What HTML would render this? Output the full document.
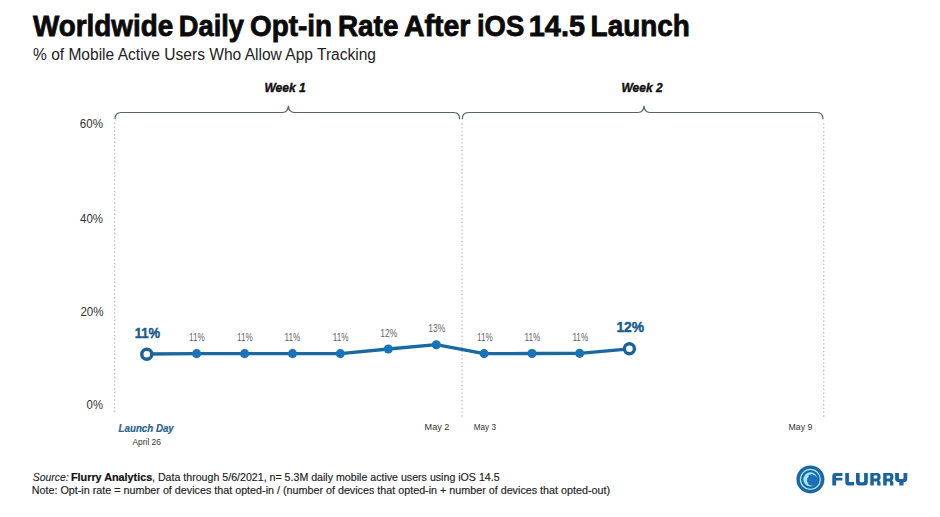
<!DOCTYPE html>
<html><head><meta charset="utf-8">
<style>
html,body{margin:0;padding:0;background:#fff;width:940px;height:517px;overflow:hidden}
svg{display:block}
text{font-family:"Liberation Sans",sans-serif}
</style></head>
<body>
<svg width="940" height="517" viewBox="0 0 940 517">
<rect width="940" height="517" fill="#fff"/>
<!-- Braces -->
<g fill="none" stroke="#536566" stroke-width="1.2">
  <path d="M115 119.2 Q115 112.5 121 112.5 L282.6 112.5 C286 112.5 288.2 110.3 288.4 105.8 C288.6 110.3 290.8 112.5 294.2 112.5 L453.7 112.5 Q459.7 112.5 459.7 119.2"/>
  <path d="M462.3 119.2 Q462.3 112.5 468.3 112.5 L638.2 112.5 C641.6 112.5 643.8 110.3 644 105.8 C644.2 110.3 646.4 112.5 649.8 112.5 L817 112.5 Q823 112.5 823 119.2"/>
</g>

<!-- Dotted vertical lines -->
<g stroke="#bcbcbc" stroke-width="1.3" stroke-dasharray="1.3 2.49">
  <line x1="114.6" y1="122.75" x2="114.6" y2="412"/>
  <line x1="462" y1="123.35" x2="462" y2="417"/>
  <line x1="823.7" y1="123.5" x2="823.7" y2="418.5"/>
</g>

<!-- Data line -->
<polyline fill="none" stroke="#1a689e" stroke-width="3.3" stroke-linejoin="round"
  points="146.8,354 196.6,353.6 244.6,353.6 292.5,353.6 340.3,353.6 388.3,349 436.3,344.7 484.1,353.6 532,353.5 579.7,353.4 629.4,348.8"/>
<g fill="#1774bb">
  <circle cx="196.6" cy="353.6" r="4.55"/>
  <circle cx="244.6" cy="353.6" r="4.55"/>
  <circle cx="292.5" cy="353.6" r="4.55"/>
  <circle cx="340.3" cy="353.6" r="4.55"/>
  <circle cx="388.3" cy="349" r="4.55"/>
  <circle cx="436.3" cy="344.7" r="4.55"/>
  <circle cx="484.1" cy="353.6" r="4.55"/>
  <circle cx="532" cy="353.5" r="4.55"/>
  <circle cx="579.7" cy="353.4" r="4.55"/>
</g>
<g fill="#fff" stroke="#1b629a" stroke-width="3.4">
  <circle cx="146.8" cy="354.3" r="5"/>
  <circle cx="629.4" cy="348.8" r="5"/>
</g>

<!-- Flurry logo -->
<g>
  <circle cx="810.4" cy="479.4" r="14" fill="#1b67a3"/>
  <circle cx="810.4" cy="479.4" r="10.6" fill="#a3e4f6"/>
  <circle cx="810.4" cy="479.4" r="9.3" fill="#1d6898"/>
  <circle cx="810.4" cy="479.4" r="7.1" fill="#a3e4f6"/>
  <circle cx="812.5" cy="480.3" r="5.5" fill="#1a70bb"/>
  <path d="M808.2 475.6 Q810.5 473.6 813.8 474.2 Q811 474.6 809.6 476.2 Z" fill="#1d6898"/>
</g>
<g fill="#1a63a0" fill-rule="evenodd">
  <path d="M832.3 485.5 V476 Q832.3 473 835.3 473 H842.4 V476.1 H836.1 V477.8 H842.4 V480.6 H836.1 V485.5 Z"/>
  <path d="M845.3 473 H848.9 V482 H854 V485.5 H848.3 Q845.3 485.5 845.3 482.5 Z"/>
  <path d="M856 473 H859.7 V481 Q859.7 482.2 860.9 482.2 H862.9 Q864.1 482.2 864.1 481 V473 H867.8 V482 Q867.8 485.5 864.3 485.5 H859.5 Q856 485.5 856 482 Z"/>
  <path d="M870.3 485.5 V473 H877.3 Q880.5 473 880.5 476.2 V478.6 L879.2 480.4 L880.5 482 V485.5 H877.1 V481.4 H873.8 V485.5 Z M873.8 475.5 H876.6 Q877.3 475.5 877.3 476.2 V477.8 Q877.3 478.5 876.6 478.5 H873.8 Z"/>
  <path d="M883.2 485.5 V473 H890.2 Q893.4 473 893.4 476.2 V478.6 L892.1 480.4 L893.4 482 V485.5 H890.0 V481.4 H886.7 V485.5 Z M886.7 475.5 H889.5 Q890.2 475.5 890.2 476.2 V477.8 Q890.2 478.5 889.5 478.5 H886.7 Z"/>
  <path d="M895.1 473 H898.9 V478 Q898.9 479 900 479 H902.5 Q903.5 479 903.5 478 V473 H907.3 V479 Q907.3 482 903.5 482.2 V485.5 H899.3 V482.2 Q895.1 482 895.1 479 Z"/>
</g>

<text id="t0" x="33.00" y="36.00" font-size="29" font-weight="bold" fill="#0a0a0a" stroke="#0a0a0a" stroke-width="0.8" textLength="140.20" lengthAdjust="spacingAndGlyphs">Worldwide</text>
<text id="t1" x="178.80" y="36.00" font-size="29" font-weight="bold" fill="#0a0a0a" stroke="#0a0a0a" stroke-width="0.8" textLength="65.20" lengthAdjust="spacingAndGlyphs">Daily</text>
<text id="t2" x="250.00" y="36.00" font-size="29" font-weight="bold" fill="#0a0a0a" stroke="#0a0a0a" stroke-width="0.8" textLength="82.00" lengthAdjust="spacingAndGlyphs">Opt-in</text>
<text id="t3" x="338.00" y="36.00" font-size="29" font-weight="bold" fill="#0a0a0a" stroke="#0a0a0a" stroke-width="0.8" textLength="60.40" lengthAdjust="spacingAndGlyphs">Rate</text>
<text id="t4" x="404.00" y="36.00" font-size="29" font-weight="bold" fill="#0a0a0a" stroke="#0a0a0a" stroke-width="0.8" textLength="66.40" lengthAdjust="spacingAndGlyphs">After</text>
<text id="t5" x="477.00" y="36.00" font-size="29" font-weight="bold" fill="#0a0a0a" stroke="#0a0a0a" stroke-width="0.8" textLength="47.20" lengthAdjust="spacingAndGlyphs">iOS</text>
<text id="t6" x="528.80" y="36.00" font-size="29" font-weight="bold" fill="#0a0a0a" stroke="#0a0a0a" stroke-width="0.8" textLength="56.20" lengthAdjust="spacingAndGlyphs">14.5</text>
<text id="t7" x="590.60" y="36.00" font-size="29" font-weight="bold" fill="#0a0a0a" stroke="#0a0a0a" stroke-width="0.8" textLength="99.20" lengthAdjust="spacingAndGlyphs">Launch</text>
<text id="sub" x="33.00" y="59.70" font-size="16" fill="#222" textLength="343.00" lengthAdjust="spacingAndGlyphs">% of Mobile Active Users Who Allow App Tracking</text>
<text id="wk1" x="264.40" y="92.00" font-size="13" font-weight="bold" font-style="italic" fill="#111" stroke="#111" stroke-width="0.4" textLength="41.40" lengthAdjust="spacingAndGlyphs">Week 1</text>
<text id="wk2" x="621.40" y="92.00" font-size="13" font-weight="bold" font-style="italic" fill="#111" stroke="#111" stroke-width="0.4" textLength="41.20" lengthAdjust="spacingAndGlyphs">Week 2</text>
<text id="y60" x="79.80" y="127.70" font-size="12" fill="#333" textLength="23.20" lengthAdjust="spacingAndGlyphs">60%</text>
<text id="y40" x="80.00" y="222.50" font-size="12" fill="#333" textLength="23.00" lengthAdjust="spacingAndGlyphs">40%</text>
<text id="y20" x="80.40" y="315.80" font-size="12" fill="#333" textLength="23.20" lengthAdjust="spacingAndGlyphs">20%</text>
<text id="y0" x="86.60" y="408.60" font-size="12" fill="#333" textLength="16.40" lengthAdjust="spacingAndGlyphs">0%</text>
<text id="d0" x="189.00" y="341.30" font-size="10.2" fill="#666" textLength="15.80" lengthAdjust="spacingAndGlyphs">11%</text>
<text id="d1" x="237.00" y="341.30" font-size="10.2" fill="#666" textLength="15.80" lengthAdjust="spacingAndGlyphs">11%</text>
<text id="d2" x="284.60" y="341.30" font-size="10.2" fill="#666" textLength="15.80" lengthAdjust="spacingAndGlyphs">11%</text>
<text id="d3" x="332.80" y="341.30" font-size="10.2" fill="#666" textLength="15.80" lengthAdjust="spacingAndGlyphs">11%</text>
<text id="d4" x="380.20" y="336.70" font-size="10.2" fill="#666" textLength="17.00" lengthAdjust="spacingAndGlyphs">12%</text>
<text id="d5" x="428.20" y="332.40" font-size="10.2" fill="#666" textLength="17.00" lengthAdjust="spacingAndGlyphs">13%</text>
<text id="d6" x="477.00" y="341.30" font-size="10.2" fill="#666" textLength="15.80" lengthAdjust="spacingAndGlyphs">11%</text>
<text id="d7" x="524.60" y="341.20" font-size="10.2" fill="#666" textLength="15.80" lengthAdjust="spacingAndGlyphs">11%</text>
<text id="d8" x="572.40" y="341.10" font-size="10.2" fill="#666" textLength="15.80" lengthAdjust="spacingAndGlyphs">11%</text>
<text id="b0" x="134.80" y="337.80" font-size="15" font-weight="bold" fill="#1b5b8c" stroke="#1b5b8c" stroke-width="0.45" textLength="25.40" lengthAdjust="spacingAndGlyphs">11%</text>
<text id="b1" x="616.40" y="332.10" font-size="15" font-weight="bold" fill="#1b5b8c" stroke="#1b5b8c" stroke-width="0.45" textLength="27.80" lengthAdjust="spacingAndGlyphs">12%</text>
<text id="launch" x="118.60" y="431.90" font-size="10" font-weight="bold" font-style="italic" fill="#28658a" stroke="#28658a" stroke-width="0.2" textLength="55.20" lengthAdjust="spacingAndGlyphs">Launch Day</text>
<text id="apr" x="132.40" y="444.80" font-size="9" fill="#333" textLength="28.60" lengthAdjust="spacingAndGlyphs">April 26</text>
<text id="may2" x="424.60" y="429.70" font-size="9" fill="#333" textLength="24.80" lengthAdjust="spacingAndGlyphs">May 2</text>
<text id="may3" x="473.80" y="429.70" font-size="9" fill="#333" textLength="22.20" lengthAdjust="spacingAndGlyphs">May 3</text>
<text id="may9" x="788.60" y="429.80" font-size="9" fill="#333" textLength="23.80" lengthAdjust="spacingAndGlyphs">May 9</text>
<text id="src" x="32.80" y="480.90" font-size="10.3" font-style="italic" fill="#222" stroke="#222" stroke-width="0.1" textLength="35.80" lengthAdjust="spacingAndGlyphs">Source:</text>
<text id="fa" x="71.00" y="480.90" font-size="10.3" font-weight="bold" fill="#111" stroke="#111" stroke-width="0.2" textLength="81.20" lengthAdjust="spacingAndGlyphs">Flurry Analytics</text>
<text id="f1" x="152.00" y="480.90" font-size="10.3" fill="#222" stroke="#222" stroke-width="0.15" textLength="347.60" lengthAdjust="spacingAndGlyphs">, Data through 5/6/2021, n= 5.3M daily mobile active users using iOS 14.5</text>
<text id="f2" x="31.80" y="494.30" font-size="10.3" fill="#222" stroke="#222" stroke-width="0.15" textLength="578.20" lengthAdjust="spacingAndGlyphs">Note: Opt-in rate = number of devices that opted-in / (number of devices that opted-in + number of devices that opted-out)</text>
</svg>
</body></html>
